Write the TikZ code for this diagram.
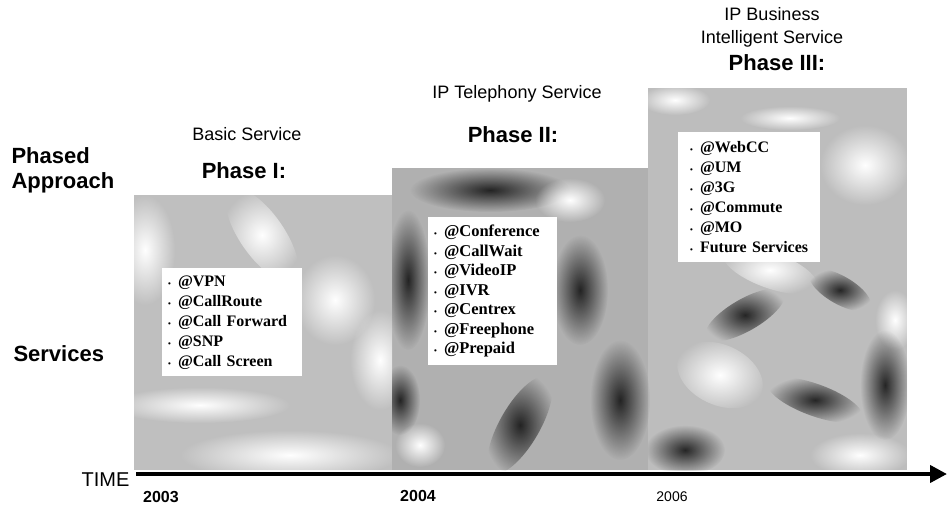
\documentclass[tikz,border=0pt]{standalone}
\usepackage{fontspec}
\setmainfont{Liberation Serif}
\setsansfont{Liberation Sans}
\usetikzlibrary{arrows.meta, fadings}

\tikzfading[name=softblob, inner color=transparent!0, outer color=transparent!100]
\tikzset{
    lightpatch/.style={white, path fading=softblob, fit fading=true},
    darkpatch/.style={black, opacity=0.8, path fading=softblob, fit fading=true},
    svclist/.style={fill=white, anchor=north west, inner sep=0, align=left,
        font=\fontsize{16}{20}\selectfont\rmfamily\bfseries},
}
\newcommand{\blt}{{\footnotesize\textbullet}\hspace{7pt}}

\begin{document}
\begin{tikzpicture}[x=1pt, y=-1pt, font=\sffamily]
    \useasboundingbox (0,0) rectangle (949,506);

    % the three phase panels
    \fill[gray!50] (134,195) rectangle (392,470);
    \fill[gray!62] (392,168) rectangle (650,470);
    \fill[gray!52] (648,88) rectangle (907,470);

    % marbled texture, phase I
    \begin{scope}
        \clip (134,195) rectangle (392,470);
        \fill[lightpatch] (145,250) ellipse [x radius=30, y radius=55];
        \fill[lightpatch] (262,235) ellipse [x radius=22, y radius=55, rotate=35];
        \fill[lightpatch] (335,300) ellipse [x radius=40, y radius=45];
        \fill[lightpatch] (380,360) ellipse [x radius=30, y radius=50];
        \fill[lightpatch] (200,405) ellipse [x radius=90, y radius=18];
        \fill[lightpatch] (290,455) ellipse [x radius=110, y radius=25];
    \end{scope}
    % marbled texture, phase II
    \begin{scope}
        \clip (392,168) rectangle (650,470);
        \fill[darkpatch] (408,280) ellipse [x radius=22, y radius=70];
        \fill[darkpatch] (490,190) ellipse [x radius=80, y radius=22];
        \fill[darkpatch] (580,290) ellipse [x radius=28, y radius=55];
        \fill[darkpatch] (400,400) ellipse [x radius=20, y radius=35];
        \fill[darkpatch] (520,425) ellipse [x radius=20, y radius=55, rotate=-30];
        \fill[darkpatch] (620,400) ellipse [x radius=30, y radius=60];
        \fill[lightpatch] (570,200) ellipse [x radius=35, y radius=22];
        \fill[lightpatch] (420,445) ellipse [x radius=25, y radius=22];
    \end{scope}
    % marbled texture, phase III
    \begin{scope}
        \clip (648,88) rectangle (907,470);
        \fill[lightpatch] (675,100) ellipse [x radius=35, y radius=15];
        \fill[lightpatch] (790,118) ellipse [x radius=50, y radius=12];
        \fill[lightpatch] (865,165) ellipse [x radius=45, y radius=40];
        \fill[lightpatch] (770,270) ellipse [x radius=50, y radius=18, rotate=-20];
        \fill[lightpatch] (720,375) ellipse [x radius=45, y radius=30, rotate=-25];
        \fill[lightpatch] (895,320) ellipse [x radius=20, y radius=30];
        \fill[lightpatch] (860,455) ellipse [x radius=50, y radius=22];
        \fill[darkpatch] (745,315) ellipse [x radius=45, y radius=16, rotate=30];
        \fill[darkpatch] (815,400) ellipse [x radius=50, y radius=16, rotate=-20];
        \fill[darkpatch] (885,385) ellipse [x radius=25, y radius=55];
        \fill[darkpatch] (685,450) ellipse [x radius=40, y radius=25];
        \fill[darkpatch] (840,290) ellipse [x radius=35, y radius=14, rotate=-30];
    \end{scope}

    % service lists
    \node[svclist, minimum width=140, minimum height=108, text width=128, inner xsep=6] (listone) at (162,268)
        {\blt @VPN\\ \blt @CallRoute\\ \blt @Call Forward\\ \blt @SNP\\ \blt @Call Screen};
    \node[svclist, minimum width=129, minimum height=148, text width=117, inner xsep=6,
        font=\fontsize{16.5}{19.5}\selectfont\rmfamily\bfseries] (listtwo) at (428,217)
        {\blt @Conference\\ \blt @CallWait\\ \blt @VideoIP\\ \blt @IVR\\ \blt @Centrex\\ \blt @Freephone\\ \blt @Prepaid};
    \node[svclist, minimum width=142, minimum height=130, text width=118, inner xsep=12] (listthree) at (678,132)
        {\blt @WebCC\\ \blt @UM\\ \blt @3G\\ \blt @Commute\\ \blt @MO\\ \blt Future Services};

    % phase headings
    \node[font=\fontsize{18}{20}\selectfont\sffamily] (basic) at (247,134) {Basic Service};
    \node[font=\fontsize{22}{24}\selectfont\sffamily\bfseries] (phaseone) at (244,171) {Phase I:};
    \node[font=\fontsize{18}{20}\selectfont\sffamily] (telephony) at (517,94) {IP Telephony Service};
    \node[font=\fontsize{22}{24}\selectfont\sffamily\bfseries] (phasetwo) at (513,135) {Phase II:};
    \node[font=\fontsize{18}{23}\selectfont\sffamily, align=center] (business) at (772,27) {IP Business\\Intelligent Service};
    \node[font=\fontsize{22}{24}\selectfont\sffamily\bfseries] (phasethree) at (777,63) {Phase III:};

    % row labels
    \node[anchor=west, align=left, font=\fontsize{22}{25}\selectfont\sffamily\bfseries] (approach) at (8,170) {Phased\\Approach};
    \node[anchor=west, font=\fontsize{22}{24}\selectfont\sffamily\bfseries] (services) at (10,354) {Services};

    % time axis
    \coordinate (tstart) at (136,474);
    \coordinate (tend) at (947,474);
    \draw[line width=4, -{Triangle[length=17, width=17]}] (tstart) -- (tend);
    \node[anchor=east, font=\fontsize{20}{22}\selectfont\sffamily] (time) at (133,480) {TIME};
    \node[font=\fontsize{16}{18}\selectfont\sffamily\bfseries] (yone) at (161,497) {2003};
    \node[font=\fontsize{16}{18}\selectfont\sffamily\bfseries] (ytwo) at (418,496) {2004};
    \node[font=\fontsize{14}{16}\selectfont\sffamily] (ythree) at (672,497) {2006};
\end{tikzpicture}
\end{document}
